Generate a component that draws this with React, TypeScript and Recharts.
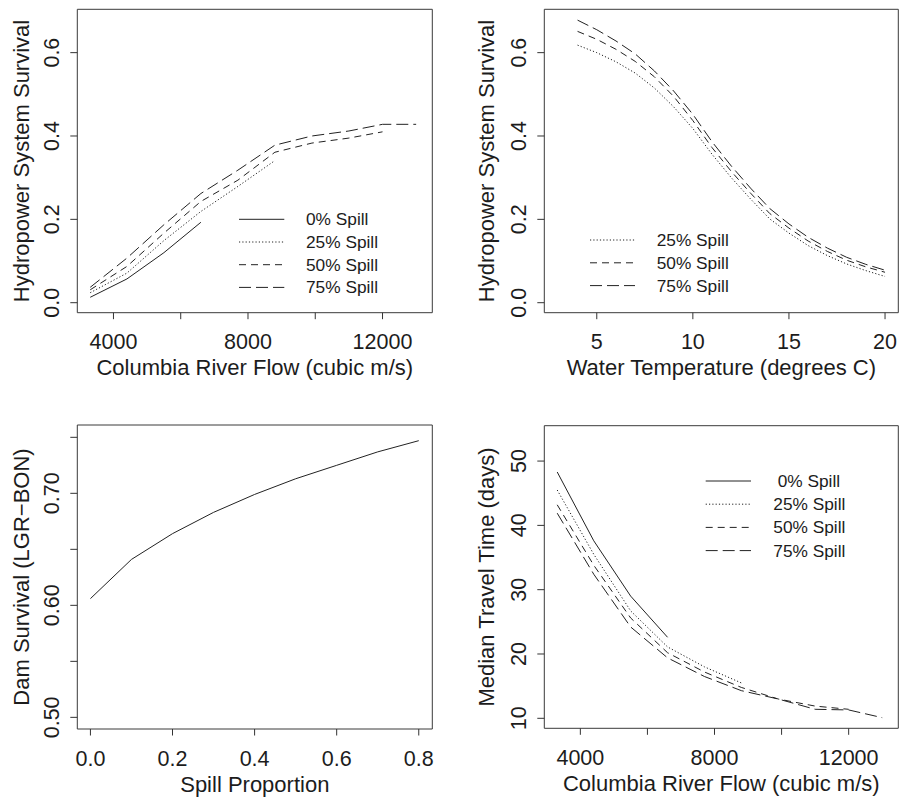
import React from 'react';
import { LineChart, Line, XAxis, YAxis, ReferenceArea, Legend, Label } from 'recharts';

const FONT = '"Liberation Sans", Arial, Helvetica, sans-serif';
const INK = '#1c1c1c';
const LINE = '#222222';

// ---------- data ----------
const flows = [3310, 4400, 5500, 6600, 7700, 8800, 9900, 11000, 12000, 13000];

// Panel 1: hydropower system survival vs Columbia River flow
const survFlow0 = [0.013, 0.057, 0.12, 0.193];
const survFlow25 = [0.024, 0.071, 0.149, 0.219, 0.279, 0.341];
const survFlow50 = [0.031, 0.087, 0.167, 0.243, 0.294, 0.361, 0.383, 0.395, 0.41];
const survFlow75 = [0.037, 0.107, 0.187, 0.262, 0.318, 0.378, 0.4, 0.412, 0.428, 0.428];

// Panel 2: hydropower system survival vs water temperature
const temps = [4, 5, 6, 7, 8, 9, 10, 11, 12, 13, 14, 15, 16, 17, 18, 19, 20];
const survTemp25 = [0.618, 0.6, 0.578, 0.551, 0.515, 0.47, 0.418, 0.356, 0.3, 0.249, 0.201, 0.167, 0.137, 0.113, 0.093, 0.077, 0.063];
const survTemp50 = [0.651, 0.632, 0.608, 0.579, 0.542, 0.495, 0.437, 0.372, 0.315, 0.263, 0.214, 0.179, 0.148, 0.123, 0.102, 0.086, 0.073];
const survTemp75 = [0.678, 0.655, 0.628, 0.597, 0.556, 0.508, 0.452, 0.386, 0.328, 0.275, 0.226, 0.189, 0.157, 0.131, 0.109, 0.092, 0.078];

// Panel 3: dam survival vs spill proportion
const spill = [0, 0.1, 0.2, 0.3, 0.4, 0.5, 0.6, 0.7, 0.8];
const damSurv = [0.606, 0.641, 0.664, 0.683, 0.699, 0.713, 0.725, 0.737, 0.747];

// Panel 4: median travel time vs flow
const travel0 = [48.3, 37.6, 29.0, 22.6];
const travel25 = [45.5, 35.5, 26.7, 21.1, 18.0, 15.5];
const travel50 = [43.2, 33.8, 25.6, 20.2, 17.2, 14.8, 13.0, 11.9, 11.4];
const travel75 = [41.9, 32.4, 24.2, 19.4, 16.5, 14.3, 13.0, 11.4, 11.3, 10.1];

// ticks & labels
const flowTicks = [4000, 6000, 8000, 10000, 12000];
const flowTickLabels = ['4000', '', '8000', '', '12000'];
const survTicks = [0, 0.2, 0.4, 0.6];
const survTickLabels = ['0.0', '0.2', '0.4', '0.6'];
const tempTicks = [5, 10, 15, 20];
const tempTickLabels = ['5', '10', '15', '20'];
const spillTicks = [0, 0.2, 0.4, 0.6, 0.8];
const spillTickLabels = ['0.0', '0.2', '0.4', '0.6', '0.8'];
const damTicks = [0.5, 0.55, 0.6, 0.65, 0.7, 0.75];
const damTickLabels = ['0.50', '', '0.60', '', '0.70', ''];
const travelTicks = [10, 20, 30, 40, 50];
const travelTickLabels = ['10', '20', '30', '40', '50'];

const spillNames4 = ['0% Spill', '25% Spill', '50% Spill', '75% Spill'];
const spillNames3 = ['25% Spill', '50% Spill', '75% Spill'];

// ---------- styles ----------
const DASH: Record<string, string | undefined> = {
  solid: undefined,
  dotted: '1.2 2.1',
  dashed: '7 5',
  longdash: '12 5',
};
const dash4 = ['solid', 'dotted', 'dashed', 'longdash'];
const dash3 = ['dotted', 'dashed', 'longdash'];

type Pt = { x: number; y: number };
const toPts = (xs: number[], ys: number[]): Pt[] => ys.map((y, i) => ({ x: xs[i], y }));

const findLabel = (ticks: number[], labels: string[], v: number) => {
  const i = ticks.findIndex((t) => Math.abs(t - v) < 1e-9);
  return i >= 0 ? labels[i] : '';
};

const makeXTick = (ticks: number[], labels: string[]) => (props: any) => {
  const { x, y, payload } = props;
  const lab = findLabel(ticks, labels, payload.value);
  if (!lab) return <g />;
  return (
    <text x={x} y={y + 30} textAnchor="middle" fontSize={21.5} fontFamily={FONT} fill={INK}>
      {lab}
    </text>
  );
};

const makeYTick = (ticks: number[], labels: string[]) => (props: any) => {
  const { x, y, payload } = props;
  const lab = findLabel(ticks, labels, payload.value);
  if (!lab) return <g />;
  return (
    <text
      transform={`translate(${x - 11},${y}) rotate(-90)`}
      textAnchor="middle"
      fontSize={21.5}
      fontFamily={FONT}
      fill={INK}
    >
      {lab}
    </text>
  );
};

type Series = { name: string; data: Pt[]; dash: string };
type LegendSpec = {
  left: number;
  top: number;
  w: number;
  h: number;
  x0: number;
  x1: number;
  tx: number;
  y0: number;
  dy: number;
  labels: string[];
  dashes: string[];
  shifts?: number[];
};

type PanelProps = {
  left: number;
  top: number;
  width: number;
  height: number;
  marginTop: number;
  marginRight: number;
  yAxisWidth: number;
  xAxisHeight: number;
  xDomain: [number, number];
  yDomain: [number, number];
  xTicks: number[];
  xLabels: string[];
  yTicks: number[];
  yLabels: string[];
  xTitle: string;
  yTitle: string;
  yTitleDist: number;
  series: Series[];
  legend?: LegendSpec;
};

function Panel(p: PanelProps) {
  const renderLegend = () => {
    const lg = p.legend!;
    return (
      <svg width={lg.w} height={lg.h} style={{ display: 'block' }}>
        {lg.labels.map((lab, i) => {
          const y = lg.y0 + i * lg.dy;
          return (
            <g key={lab}>
              <line x1={lg.x0} x2={lg.x1} y1={y} y2={y} stroke={LINE} strokeWidth={1} strokeDasharray={DASH[lg.dashes[i]]} />
              <text
                x={lg.tx + (lg.shifts ? lg.shifts[i] : 0)}
                y={y + 6}
                fontSize={17.3}
                fontFamily={FONT}
                fill={INK}
              >
                {lab}
              </text>
            </g>
          );
        })}
      </svg>
    );
  };

  return (
    <div style={{ position: 'absolute', left: p.left, top: p.top, width: p.width, height: p.height }}>
      <LineChart
        width={p.width}
        height={p.height}
        margin={{ top: p.marginTop, right: p.marginRight, left: 0, bottom: 0 }}
      >
        <XAxis
          type="number"
          dataKey="x"
          domain={p.xDomain}
          allowDataOverflow
          ticks={p.xTicks}
          interval={0}
          height={p.xAxisHeight}
          axisLine={false}
          tickLine={{ stroke: '#333', strokeWidth: 1 }}
          tickSize={6.5}
          tickMargin={0}
          tick={makeXTick(p.xTicks, p.xLabels)}
        >
          <Label
            content={(lp: any) => {
              const vb = lp.viewBox || {};
              return (
                <text
                  x={vb.x + vb.width / 2}
                  y={vb.y + 62.7}
                  textAnchor="middle"
                  fontSize={22}
                  fontFamily={FONT}
                  fill={INK}
                >
                  {p.xTitle}
                </text>
              );
            }}
          />
        </XAxis>
        <YAxis
          type="number"
          dataKey="y"
          domain={p.yDomain}
          allowDataOverflow
          ticks={p.yTicks}
          interval={0}
          width={p.yAxisWidth}
          axisLine={false}
          tickLine={{ stroke: '#333', strokeWidth: 1 }}
          tickSize={7}
          tickMargin={0}
          tick={makeYTick(p.yTicks, p.yLabels)}
        >
          <Label
            content={(lp: any) => {
              const vb = lp.viewBox || {};
              const bx = vb.x + vb.width - p.yTitleDist + 7.9;
              const cy = vb.y + vb.height / 2;
              return (
                <text
                  transform={`translate(${bx},${cy}) rotate(-90)`}
                  textAnchor="middle"
                  fontSize={22}
                  fontFamily={FONT}
                  fill={INK}
                >
                  {p.yTitle}
                </text>
              );
            }}
          />
        </YAxis>
        <ReferenceArea
          x1={p.xDomain[0]}
          x2={p.xDomain[1]}
          y1={p.yDomain[0]}
          y2={p.yDomain[1]}
          fill="none"
          fillOpacity={0}
          stroke="#3a3a3a"
          strokeWidth={1}
          ifOverflow="visible"
        />
        {p.series.map((s) => (
          <Line
            key={s.name}
            name={s.name}
            data={s.data}
            dataKey="y"
            type="linear"
            stroke={LINE}
            strokeWidth={1}
            strokeDasharray={DASH[s.dash]}
            dot={false}
            activeDot={false}
            isAnimationActive={false}
          />
        ))}
        {p.legend && (
          <Legend
            layout="vertical"
            align="center"
            verticalAlign="middle"
            wrapperStyle={{
              left: p.legend.left,
              top: p.legend.top,
              width: p.legend.w,
              height: p.legend.h,
              margin: 0,
              padding: 0,
            }}
            content={renderLegend}
          />
        )}
      </LineChart>
    </div>
  );
}

export default function App() {
  const flowDomain: [number, number] = [2925, 13480];
  const survDomain: [number, number] = [-0.024, 0.704];

  const p1Series: Series[] = [
    { name: spillNames4[0], data: toPts(flows, survFlow0), dash: dash4[0] },
    { name: spillNames4[1], data: toPts(flows, survFlow25), dash: dash4[1] },
    { name: spillNames4[2], data: toPts(flows, survFlow50), dash: dash4[2] },
    { name: spillNames4[3], data: toPts(flows, survFlow75), dash: dash4[3] },
  ];
  const p2Series: Series[] = [
    { name: spillNames3[0], data: toPts(temps, survTemp25), dash: dash3[0] },
    { name: spillNames3[1], data: toPts(temps, survTemp50), dash: dash3[1] },
    { name: spillNames3[2], data: toPts(temps, survTemp75), dash: dash3[2] },
  ];
  const p3Series: Series[] = [{ name: 'Dam Survival', data: toPts(spill, damSurv), dash: 'solid' }];
  const p4Series: Series[] = [
    { name: spillNames4[0], data: toPts(flows, travel0), dash: dash4[0] },
    { name: spillNames4[1], data: toPts(flows, travel25), dash: dash4[1] },
    { name: spillNames4[2], data: toPts(flows, travel50), dash: dash4[2] },
    { name: spillNames4[3], data: toPts(flows, travel75), dash: dash4[3] },
  ];

  return (
    <div style={{ position: 'absolute', left: 0, top: 0, width: 911, height: 801, background: '#fff' }}>
      <Panel
        left={0}
        top={0}
        width={455}
        height={400}
        marginTop={9.3}
        marginRight={22.7}
        yAxisWidth={77.3}
        xAxisHeight={87.3}
        xDomain={flowDomain}
        yDomain={survDomain}
        xTicks={flowTicks}
        xLabels={flowTickLabels}
        yTicks={survTicks}
        yLabels={survTickLabels}
        xTitle="Columbia River Flow (cubic m/s)"
        yTitle="Hydropower System Survival"
        yTitleDist={56.2}
        series={p1Series}
        legend={{
          left: 230,
          top: 205,
          w: 170,
          h: 95,
          x0: 9,
          x1: 54.3,
          tx: 76,
          y0: 14.3,
          dy: 22.7,
          labels: spillNames4,
          dashes: dash4,
        }}
      />
      <Panel
        left={455}
        top={0}
        width={456}
        height={400}
        marginTop={9.3}
        marginRight={12.7}
        yAxisWidth={89.3}
        xAxisHeight={87.3}
        xDomain={[2.27, 20.69]}
        yDomain={survDomain}
        xTicks={tempTicks}
        xLabels={tempTickLabels}
        yTicks={survTicks}
        yLabels={survTickLabels}
        xTitle="Water Temperature (degrees C)"
        yTitle="Hydropower System Survival"
        yTitleDist={58.2}
        series={p2Series}
        legend={{
          left: 125,
          top: 225,
          w: 170,
          h: 75,
          x0: 10,
          x1: 55,
          tx: 76.7,
          y0: 15,
          dy: 22.8,
          labels: spillNames3,
          dashes: dash3,
        }}
      />
      <Panel
        left={0}
        top={400}
        width={455}
        height={401}
        marginTop={25}
        marginRight={22.7}
        yAxisWidth={77.3}
        xAxisHeight={72}
        xDomain={[-0.032, 0.833]}
        yDomain={[0.4896, 0.761]}
        xTicks={spillTicks}
        xLabels={spillTickLabels}
        yTicks={damTicks}
        yLabels={damTickLabels}
        xTitle="Spill Proportion"
        yTitle="Dam Survival (LGR−BON)"
        yTitleDist={56.2}
        series={p3Series}
      />
      <Panel
        left={455}
        top={400}
        width={456}
        height={401}
        marginTop={25.7}
        marginRight={12.7}
        yAxisWidth={89.3}
        xAxisHeight={72.7}
        xDomain={flowDomain}
        yDomain={[8.445, 55.5]}
        xTicks={flowTicks}
        xLabels={flowTickLabels}
        yTicks={travelTicks}
        yLabels={travelTickLabels}
        xTitle="Columbia River Flow (cubic m/s)"
        yTitle="Median Travel Time (days)"
        yTitleDist={58.2}
        series={p4Series}
        legend={{
          left: 240,
          top: 66,
          w: 170,
          h: 95,
          x0: 10.7,
          x1: 56,
          tx: 78.3,
          y0: 15,
          dy: 23.2,
          labels: spillNames4,
          dashes: dash4,
          shifts: [4.4, 0, 0, 0],
        }}
      />
    </div>
  );
}
